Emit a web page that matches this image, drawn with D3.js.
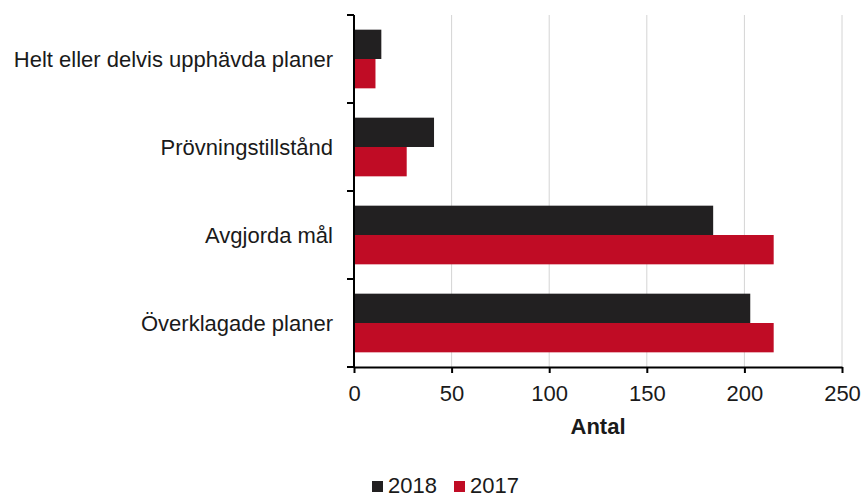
<!DOCTYPE html>
<html>
<head>
<meta charset="utf-8">
<script src="https://cdn.jsdelivr.net/npm/d3@7"></script>
<style>
  body { margin: 0; background: #fff; }
  svg { display: block; font-family: "Liberation Sans", Arial, sans-serif; }
</style>
</head>
<body>
<div id="chart"></div>
<script>
// data
var categories = ["Helt eller delvis upphävda planer", "Prövningstillstånd", "Avgjorda mål", "Överklagade planer"];
var seriesNames = ["2018", "2017"];
var values2018 = [14, 41, 184, 203];
var values2017 = [11, 27, 215, 215];
var xTicks = [0, 50, 100, 150, 200, 250];
var colors = {"2018": "#222021", "2017": "#c00c25"};

var W = 864, H = 497;
var margin = {top: 15, right: 22, bottom: 130, left: 354};
var iw = W - margin.left - margin.right;
var ih = H - margin.top - margin.bottom;
var fs = 22;

var svg = d3.select("#chart").append("svg")
    .attr("width", W)
    .attr("height", H);

var g = svg.append("g").attr("transform", "translate(" + margin.left + "," + margin.top + ")");

var x = d3.scaleLinear().domain([0, 250]).range([0, iw]);
var y = d3.scaleBand().domain(categories).range([0, ih]).padding(0);
var ySub = d3.scaleBand().domain(seriesNames).range([0, y.bandwidth()]).paddingInner(0).paddingOuter(0.5);

// gridlines
g.selectAll(".grid").data(xTicks.slice(1)).enter().append("line")
    .attr("x1", function(d) { return x(d); })
    .attr("x2", function(d) { return x(d); })
    .attr("y1", 0)
    .attr("y2", ih)
    .attr("stroke", "#d4d4d4")
    .attr("stroke-width", 1);

var rows = categories.map(function(c, i) {
  return {cat: c, vals: [{s: "2018", v: values2018[i]}, {s: "2017", v: values2017[i]}]};
});

var grp = g.selectAll(".cat").data(rows).enter().append("g")
    .attr("transform", function(d) { return "translate(0," + y(d.cat) + ")"; });

grp.selectAll("rect").data(function(d) { return d.vals; }).enter().append("rect")
    .attr("x", x(0))
    .attr("y", function(d) { return ySub(d.s); })
    .attr("width", function(d) { return x(d.v) - x(0); })
    .attr("height", ySub.bandwidth())
    .attr("fill", function(d) { return colors[d.s]; });

// x axis
var xAxis = g.append("g").attr("transform", "translate(0," + ih + ")")
    .call(d3.axisBottom(x).tickValues(xTicks).tickSize(6).tickSizeOuter(0));
xAxis.select(".domain").attr("stroke", "#000").attr("stroke-width", 2);
xAxis.selectAll(".tick line").attr("stroke", "#000").attr("stroke-width", 2);
xAxis.selectAll(".tick text")
    .attr("font-size", fs)
    .attr("font-family", "Liberation Sans, Arial, sans-serif")
    .attr("fill", "#1a1a1a")
    .attr("dy", "1.12em");

// y axis (category boundaries as ticks)
g.append("line")
    .attr("x1", 0).attr("x2", 0)
    .attr("y1", 0).attr("y2", ih)
    .attr("stroke", "#000").attr("stroke-width", 2);

var bounds = categories.map(function(c) { return y(c); }).concat([ih]);
g.selectAll(".ytick").data(bounds).enter().append("line")
    .attr("x1", -7).attr("x2", 0)
    .attr("y1", function(d) { return d; })
    .attr("y2", function(d) { return d; })
    .attr("stroke", "#000").attr("stroke-width", 2);

g.selectAll(".ylab").data(categories).enter().append("text")
    .attr("x", -21)
    .attr("y", function(d) { return y(d) + y.bandwidth() / 2; })
    .attr("dy", "0.35em")
    .attr("text-anchor", "end")
    .attr("font-size", fs)
    .attr("fill", "#1a1a1a")
    .text(function(d) { return d; });

// axis title
g.append("text")
    .attr("x", iw / 2)
    .attr("y", ih + 67)
    .attr("text-anchor", "middle")
    .attr("font-size", fs)
    .attr("font-weight", "bold")
    .attr("fill", "#1a1a1a")
    .text("Antal");

// legend
var legend = svg.append("g").attr("transform", "translate(372,493)");
var lx = [0, 82];
seriesNames.forEach(function(s, i) {
  legend.append("rect")
      .attr("x", lx[i]).attr("y", -12)
      .attr("width", 11).attr("height", 11)
      .attr("fill", colors[s]);
  legend.append("text")
      .attr("x", lx[i] + 16).attr("y", 0)
      .attr("font-size", fs)
      .attr("fill", "#1a1a1a")
      .text(s);
});
</script>
</body>
</html>
